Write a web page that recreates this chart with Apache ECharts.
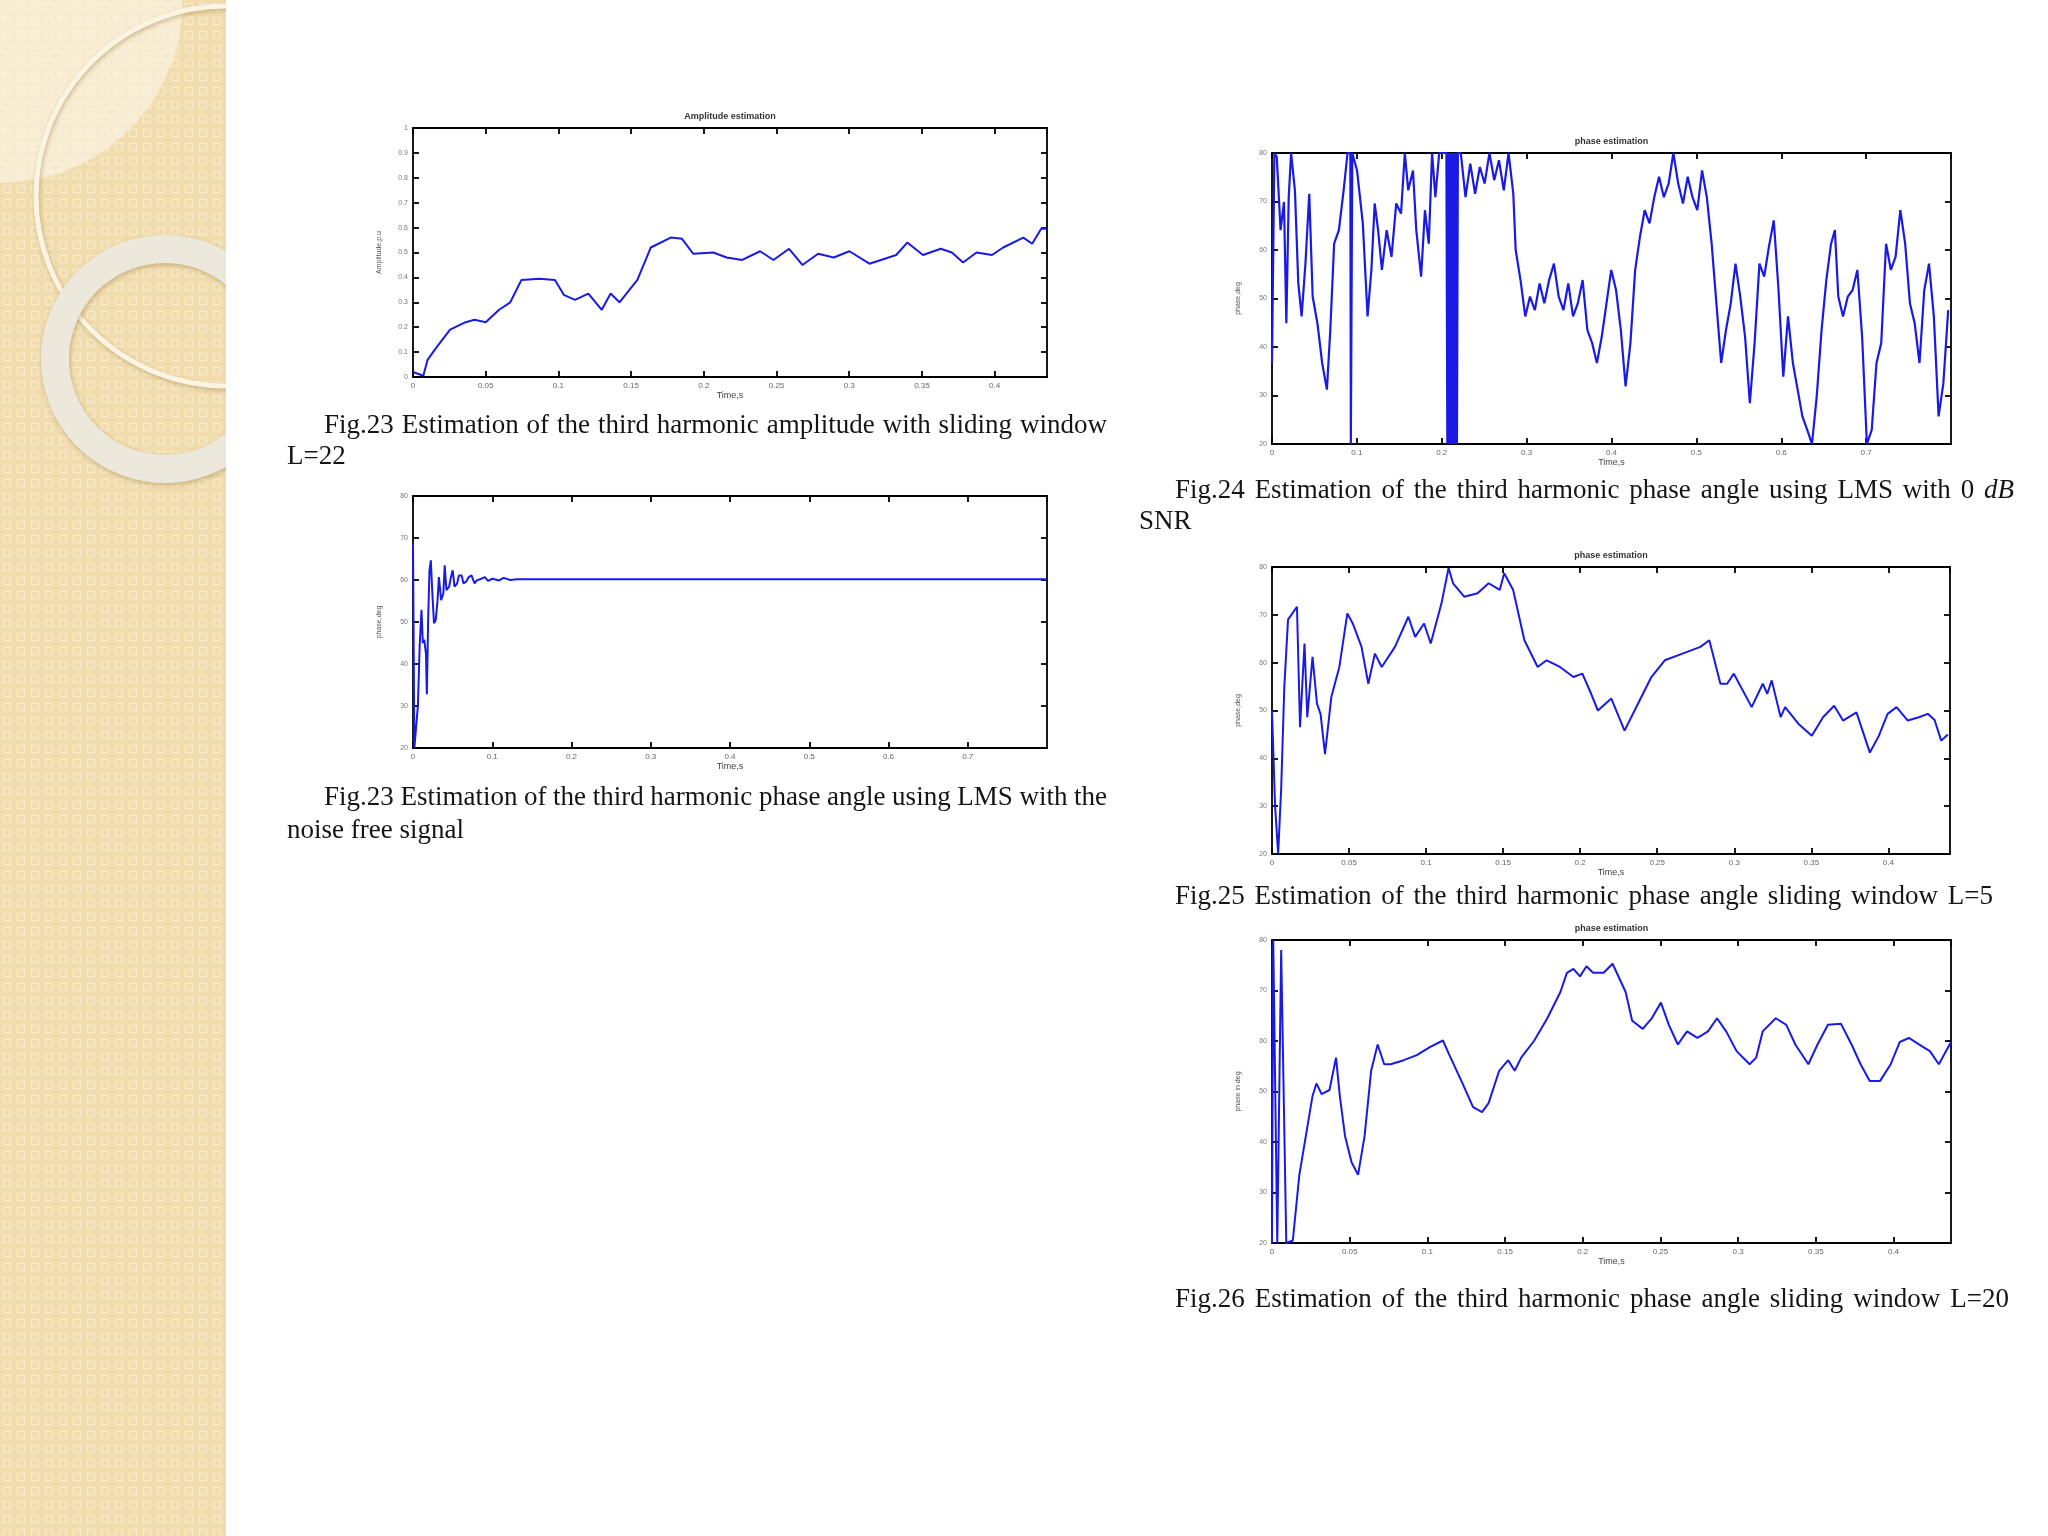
<!DOCTYPE html>
<html>
<head>
<meta charset="utf-8">
<script src="https://cdn.jsdelivr.net/npm/echarts@6/dist/echarts.min.js"></script>
<style>
html,body{margin:0;padding:0;background:#fff;}
#c{width:2048px;height:1536px;}
</style>
</head>
<body>
<div id="c"></div>
<script>
// ---------- data ----------
// Fig.23 amplitude estimation (sliding window L=22)
const ampT = [0,0.0071,0.0101,0.0163,0.0255,0.0362,0.0423,0.05,0.0592,0.0669,0.0746,0.0868,0.0976,0.1037,0.1114,0.1206,0.1298,0.1359,0.142,0.1543,0.1635,0.1773,0.185,0.1927,0.2065,0.2157,0.2264,0.2387,0.2479,0.2586,0.2678,0.2786,0.2893,0.3001,0.3139,0.3323,0.3399,0.3507,0.3629,0.3706,0.3783,0.3875,0.3982,0.4059,0.4197,0.4258,0.432,0.436];
const ampV = [0.02,0.005,0.07,0.12,0.19,0.22,0.23,0.22,0.27,0.30,0.39,0.395,0.39,0.33,0.31,0.335,0.27,0.335,0.30,0.39,0.52,0.56,0.555,0.495,0.50,0.48,0.47,0.505,0.47,0.515,0.45,0.495,0.48,0.505,0.455,0.49,0.54,0.49,0.515,0.50,0.46,0.50,0.49,0.52,0.56,0.535,0.595,0.595];
const ampXTicks = [0,0.05,0.1,0.15,0.2,0.25,0.3,0.35,0.4];
const ampYTicks = [0,0.1,0.2,0.3,0.4,0.5,0.6,0.7,0.8,0.9,1];
const ampXMax = 0.436;

// Fig.23 phase angle, LMS, noise free
const lmsT = [0,0.0017,0.0028,0.0062,0.0084,0.0107,0.0124,0.0141,0.0163,0.0175,0.0191,0.0208,0.0225,0.0242,0.0265,0.0287,0.031,0.0327,0.0355,0.0383,0.04,0.0422,0.0456,0.0479,0.0501,0.0524,0.0557,0.058,0.0614,0.0636,0.067,0.0704,0.0738,0.0777,0.0805,0.0861,0.0907,0.0946,0.1002,0.1087,0.1143,0.1227,0.1312,0.1537,0.8];
const lmsV = [68.6,20,20,30.1,44.2,52.9,45.0,45.8,42.6,32.8,50.5,62.3,64.7,57.6,49.7,50.5,55.2,60.7,55.2,56.8,63.5,57.6,58.4,60.7,62.3,58.4,59.2,61.1,61.1,59.2,59.6,60.7,61.1,59.2,59.9,60.3,60.7,59.8,60.3,59.9,60.5,60.0,60.2,60.2,60.2];
const lmsXTicks = [0,0.1,0.2,0.3,0.4,0.5,0.6,0.7];
const lmsXMax = 0.8;

// Fig.24 phase angle, LMS, 0 dB SNR
const snrT = [0,0.0028,0.0056,0.0101,0.0141,0.0169,0.0197,0.0225,0.027,0.031,0.0349,0.0394,0.0439,0.0479,0.0535,0.0591,0.0647,0.0687,0.0732,0.0788,0.0844,0.089,0.0923,0.0929,0.094,0.0946,0.1002,0.107,0.1126,0.1171,0.121,0.125,0.1295,0.1351,0.1408,0.1464,0.152,0.1565,0.1605,0.1661,0.17,0.1757,0.1802,0.1847,0.1886,0.1925,0.197,0.2055,0.2066,0.2077,0.2089,0.21,0.2111,0.2123,0.2134,0.2145,0.2156,0.2168,0.2179,0.219,0.2224,0.228,0.2336,0.2393,0.2449,0.2505,0.2562,0.2618,0.2674,0.2731,0.2787,0.2843,0.2871,0.2928,0.2984,0.304,0.3097,0.3153,0.3209,0.3265,0.3322,0.3378,0.3434,0.3491,0.3547,0.3603,0.366,0.3716,0.3772,0.3828,0.3885,0.3941,0.3997,0.4054,0.411,0.4166,0.4223,0.4279,0.4335,0.4391,0.4448,0.4504,0.456,0.4617,0.4673,0.4729,0.4786,0.4842,0.4898,0.4954,0.5011,0.5067,0.5123,0.518,0.5236,0.5292,0.5349,0.5405,0.5461,0.5517,0.5574,0.563,0.5686,0.5743,0.5799,0.5855,0.5912,0.5968,0.6024,0.608,0.6137,0.6193,0.6249,0.6306,0.6362,0.6418,0.6475,0.6531,0.6587,0.6632,0.6672,0.6728,0.6784,0.684,0.6897,0.6953,0.7009,0.7066,0.7122,0.7178,0.7235,0.7291,0.7347,0.7403,0.746,0.7516,0.7572,0.7629,0.7685,0.7741,0.7798,0.7854,0.791,0.7967];
const snrV = [36.7,80,79.2,64.1,69.9,44.9,70.9,80,72.3,53.1,46.3,57.2,71.6,50.4,44.9,36.7,31.2,43.5,61.3,64.1,72.3,80,80,20,20,80,76.4,65.5,46.3,55.9,69.6,64.1,55.9,64.1,58.6,69.6,67.5,80,72.3,76.4,64.1,54.5,68.2,61.3,80,70.9,80,80,20,80,20,80,20,80,20,80,20,80,20,80,80,70.9,77.8,71.6,77.1,73.7,80,74.4,78.5,72.3,80,71.6,60,53.8,46.3,50.4,47.6,53.1,49,53.8,57.2,50.4,47.6,53.1,46.3,49,53.8,43.5,40.8,36.7,42.1,49,55.9,51.7,43.5,31.9,40.8,55.9,62.7,68.2,65.5,70.9,75.1,70.9,73.7,80,73.7,69.6,75.1,70.9,68.2,76.4,70.9,61.3,49,36.7,43.5,49,57.2,50.4,42.1,28.4,40.8,57.2,54.5,60.7,66.1,51.7,33.9,46.3,36.7,31.2,25.7,22.9,20,29.8,43.5,53.8,61.3,64.1,50.4,46.3,50.4,51.7,55.9,42.1,20,22.9,36.7,40.8,61.3,55.9,58.6,68.2,61.3,49,44.9,36.7,51.7,57.2,46.3,25.7,32.5,47.6];
const snrXTicks = [0,0.1,0.2,0.3,0.4,0.5,0.6,0.7];
const snrXMax = 0.8;

// Fig.25 phase angle, sliding window L=5
const l5T = [0,0.002,0.004,0.006,0.008,0.0104,0.0162,0.0182,0.0211,0.0229,0.0263,0.0292,0.0315,0.0344,0.0385,0.0437,0.0489,0.0524,0.0581,0.0625,0.0668,0.0712,0.0798,0.0885,0.0929,0.0987,0.103,0.110,0.1146,0.1175,0.1247,0.1334,0.1406,0.1478,0.1507,0.1565,0.1638,0.1724,0.1782,0.1869,0.1956,0.2014,0.2071,0.2115,0.2202,0.2288,0.2375,0.2462,0.2549,0.2664,0.278,0.2838,0.291,0.2954,0.2997,0.3113,0.3185,0.3214,0.3243,0.3301,0.333,0.3417,0.3503,0.3576,0.3648,0.3706,0.3793,0.388,0.3938,0.3995,0.4053,0.4126,0.4198,0.4256,0.43,0.4343,0.4386];
const l5V = [50,30,20,34,55,69,71.7,46.5,64,48.6,61.2,51.4,49.3,40.9,52.8,59.1,70.3,68.2,63.3,55.6,61.9,59.1,63.3,69.6,65.4,68.2,64,72.4,79.8,76.6,73.8,74.5,76.6,75.2,78.7,75.2,64.7,59.1,60.5,59.1,57,57.7,53.5,50,52.5,45.8,51.4,57,60.5,61.9,63.3,64.7,55.6,55.6,57.7,50.7,55.6,53.5,56.3,48.6,50.7,47.2,44.7,48.6,51,47.9,49.6,41.2,44.7,49.3,50.7,47.9,48.6,49.3,48,43.7,45];
const l5XTicks = [0,0.05,0.1,0.15,0.2,0.25,0.3,0.35,0.4];
const l5XMax = 0.44;

// Fig.26 phase angle, sliding window L=20
const l20T = [0,0.0008,0.0034,0.0059,0.0092,0.0134,0.0176,0.0218,0.026,0.0286,0.0319,0.037,0.0412,0.0437,0.047,0.0512,0.0554,0.0596,0.0638,0.068,0.0722,0.0764,0.0848,0.0932,0.1016,0.11,0.1142,0.1226,0.1294,0.1352,0.1394,0.1462,0.152,0.1562,0.1604,0.1688,0.1772,0.1856,0.1898,0.194,0.1982,0.2024,0.2066,0.2134,0.2192,0.2276,0.2318,0.2386,0.2444,0.2503,0.2554,0.2612,0.2671,0.2738,0.2806,0.2864,0.2923,0.299,0.3074,0.3116,0.3158,0.3242,0.331,0.3368,0.3452,0.3511,0.3578,0.3662,0.373,0.3788,0.3847,0.3914,0.3982,0.404,0.4099,0.4166,0.4234,0.4292,0.437];
const l20V = [20,80,20,78,20,20.5,33.5,41.2,49,51.6,49.5,50.3,56.7,49,41.2,36,33.5,41.2,54.1,59.3,55.4,55.4,56.2,57.2,58.8,60.1,57.2,51.6,46.9,45.9,47.7,54.1,56.2,54.1,56.7,60.1,64.5,69.7,73.5,74.3,72.8,74.8,73.5,73.5,75.3,69.7,64,62.4,64.5,67.6,63.2,59.3,61.9,60.6,61.9,64.5,61.9,58,55.4,56.7,61.9,64.5,63.2,59.3,55.4,59.3,63.2,63.4,59.3,55.4,52.1,52.1,55.4,59.8,60.6,59.3,58,55.4,59.8];
const l20XTicks = [0,0.05,0.1,0.15,0.2,0.25,0.3,0.35,0.4];
const l20XMax = 0.437;

const phaseYTicks = [20,30,40,50,60,70,80];

const titles = ['Amplitude estimation', '', 'phase estimation', 'phase estimation', 'phase estimation'];
const yNames = ['Amplitude,p.u', 'phase,deg', 'phase,deg', 'phase,deg', 'phase in deg'];
const xName = 'Time,s';

const captionLines = [
  {text: 'Fig.23 Estimation of the third harmonic amplitude with sliding window', mode: 'justify'},
  {text: 'L=22', mode: 'plain'},
  {text: 'Fig.23 Estimation of the third harmonic phase angle using LMS with the', mode: 'justify'},
  {text: 'noise free signal', mode: 'plain'},
  {text: 'Fig.24 Estimation of the third harmonic phase angle using LMS with 0 dB', mode: 'justify'},
  {text: 'SNR', mode: 'plain'},
  {text: 'Fig.25 Estimation of the third harmonic phase angle sliding window L=5', mode: 'fit'},
  {text: 'Fig.26 Estimation of the third harmonic phase angle sliding window L=20', mode: 'fit'}
];
const italicWords = ['dB'];

// ---------- layout ----------
const grids = [
  {left: 413, top: 128, width: 634, height: 249},
  {left: 413, top: 496, width: 634, height: 252},
  {left: 1272, top: 153, width: 679, height: 291},
  {left: 1272, top: 567, width: 678, height: 287},
  {left: 1272, top: 940, width: 679, height: 303}
];
const captionPos = [
  {x0: 324, x1: 1107, y: 426},
  {x0: 287, y: 457},
  {x0: 324, x1: 1107, y: 798},
  {x0: 287, y: 831},
  {x0: 1175, x1: 2014, y: 491},
  {x0: 1139, y: 522},
  {x0: 1175, x1: 1993, y: 897},
  {x0: 1175, x1: 2009, y: 1300}
];

const plots = [
  {t: ampT, v: ampV, xt: ampXTicks, xmax: ampXMax, yt: ampYTicks, w: 2},
  {t: lmsT, v: lmsV, xt: lmsXTicks, xmax: lmsXMax, yt: phaseYTicks, w: 2},
  {t: snrT, v: snrV, xt: snrXTicks, xmax: snrXMax, yt: phaseYTicks, w: 2.2},
  {t: l5T, v: l5V, xt: l5XTicks, xmax: l5XMax, yt: phaseYTicks, w: 2},
  {t: l20T, v: l20V, xt: l20XTicks, xmax: l20XMax, yt: phaseYTicks, w: 2}
];

function fmt(v) { return String(+(+v).toFixed(3)); }
const lineSt = {color: '#000', width: 1.8};

const xAxes = [], yAxes = [], series = [];
plots.forEach((p, i) => {
  const xi = p.xt[1] - p.xt[0];
  const yi = p.yt[1] - p.yt[0];
  const ymax = p.yt[p.yt.length - 1];
  const base = {type: 'value', gridIndex: i, splitLine: {show: false},
    axisLine: {onZero: false, lineStyle: lineSt},
    axisTick: {inside: true, length: 6, lineStyle: lineSt}};
  xAxes.push(Object.assign({}, base, {
    position: 'bottom', min: p.xt[0], max: p.xmax, interval: xi,
    axisLabel: {fontSize: 8, color: '#666', margin: 5, showMaxLabel: false, formatter: fmt},
    name: xName, nameLocation: 'middle', nameGap: 14,
    nameTextStyle: {fontSize: 9, color: '#444'}
  }));
  xAxes.push(Object.assign({}, base, {
    position: 'top', min: p.xt[0], max: p.xmax, interval: xi,
    axisLabel: {show: false},
    name: titles[i], nameLocation: 'middle', nameGap: 7,
    nameTextStyle: {fontSize: 9, color: '#333', fontWeight: 'bold'}
  }));
  yAxes.push(Object.assign({}, base, {
    position: 'left', min: p.yt[0], max: ymax, interval: yi,
    axisLabel: {fontSize: 7, color: '#777', margin: 5, formatter: fmt},
    name: yNames[i], nameLocation: 'middle', nameGap: 30, nameRotate: 90,
    nameTextStyle: {fontSize: 7, color: '#555'}
  }));
  yAxes.push(Object.assign({}, base, {
    position: 'right', min: p.yt[0], max: ymax, interval: yi,
    axisLabel: {show: false}
  }));
  series.push({
    type: 'line', xAxisIndex: 2 * i, yAxisIndex: 2 * i,
    data: p.t.map((t, k) => [t, p.v[k]]),
    showSymbol: false, symbol: 'none', clip: true,
    lineStyle: {color: '#1a1ae6', width: p.w}
  });
});

// ---------- background strip pattern ----------
const pat = document.createElement('canvas');
pat.width = 14; pat.height = 14;
const pc = pat.getContext('2d');
pc.fillStyle = '#f1dcae'; pc.fillRect(0, 0, 14, 14);
pc.strokeStyle = '#f7e9c9'; pc.lineWidth = 1.5; pc.strokeRect(3.5, 3.5, 7, 7);
pc.fillStyle = '#efd8a8'; pc.fillRect(6, 6, 2, 2);

const graphics = [];
graphics.push({type: 'rect', z: -1, z2: 0, shape: {x: 0, y: 0, width: 226, height: 1536}, style: {fill: {type: 'pattern', image: pat, repeat: 'repeat'}}, silent: true});
graphics.push({type: 'sector', z: -1, z2: 1, shape: {cx: 0, cy: 0, r: 183, startAngle: 0, endAngle: Math.PI / 2}, style: {fill: 'rgba(252,246,232,0.6)'}, silent: true});
graphics.push({type: 'circle', z: -1, z2: 2, shape: {cx: 226, cy: 196, r: 190}, style: {fill: 'none', stroke: '#fbf4e2', lineWidth: 5, shadowBlur: 4, shadowColor: 'rgba(150,120,60,0.45)', shadowOffsetX: 1, shadowOffsetY: 2}, silent: true});
graphics.push({type: 'circle', z: -1, z2: 3, shape: {cx: 165, cy: 359, r: 110}, style: {fill: 'none', stroke: '#ede8dc', lineWidth: 28, shadowBlur: 5, shadowColor: 'rgba(150,120,60,0.45)', shadowOffsetX: 1, shadowOffsetY: 2}, silent: true});
graphics.push({type: 'rect', z: -1, z2: 10, shape: {x: 226, y: 0, width: 1822, height: 1536}, style: {fill: '#ffffff'}, silent: true});

// ---------- captions ----------
const FS = 27;
const ctx = document.createElement('canvas').getContext('2d');
function fontOf(w) { return (italicWords.indexOf(w) >= 0 ? 'italic ' : '') + FS + 'px "Liberation Serif"'; }
function measure(w) { ctx.font = fontOf(w); return ctx.measureText(w).width; }
ctx.font = FS + 'px "Liberation Serif"';
const spaceW = ctx.measureText(' ').width;

// horizontal squeeze from the fitted lines
let sx = 1;
captionLines.forEach((c, i) => {
  if (c.mode === 'fit') {
    const words = c.text.split(' ');
    const nat = words.reduce((a, w) => a + measure(w), 0) + spaceW * (words.length - 1);
    sx = Math.min(sx, (captionPos[i].x1 - captionPos[i].x0) / nat);
  }
});

captionLines.forEach((c, i) => {
  const pos = captionPos[i];
  const words = c.text.split(' ');
  const widths = words.map(w => measure(w) * sx);
  let gap = spaceW * sx;
  if (c.mode !== 'plain' && words.length > 1) {
    const sum = widths.reduce((a, b) => a + b, 0);
    gap = Math.max(gap * 0.8, (pos.x1 - pos.x0 - sum) / (words.length - 1));
  }
  let x = pos.x0;
  words.forEach((w, k) => {
    graphics.push({type: 'text', x: x, y: pos.y, z: 5, scaleX: sx,
      style: {text: w, font: fontOf(w), fill: '#151515', textAlign: 'left', textVerticalAlign: 'middle', verticalAlign: 'middle'}});
    x += widths[k] + gap;
  });
});

const chart = echarts.init(document.getElementById('c'), null, {renderer: 'canvas'});
chart.setOption({
  animation: false,
  backgroundColor: '#ffffff',
  grid: grids.map(g => Object.assign({containLabel: false}, g)),
  xAxis: xAxes,
  yAxis: yAxes,
  series: series,
  graphic: graphics
});
</script>
</body>
</html>
